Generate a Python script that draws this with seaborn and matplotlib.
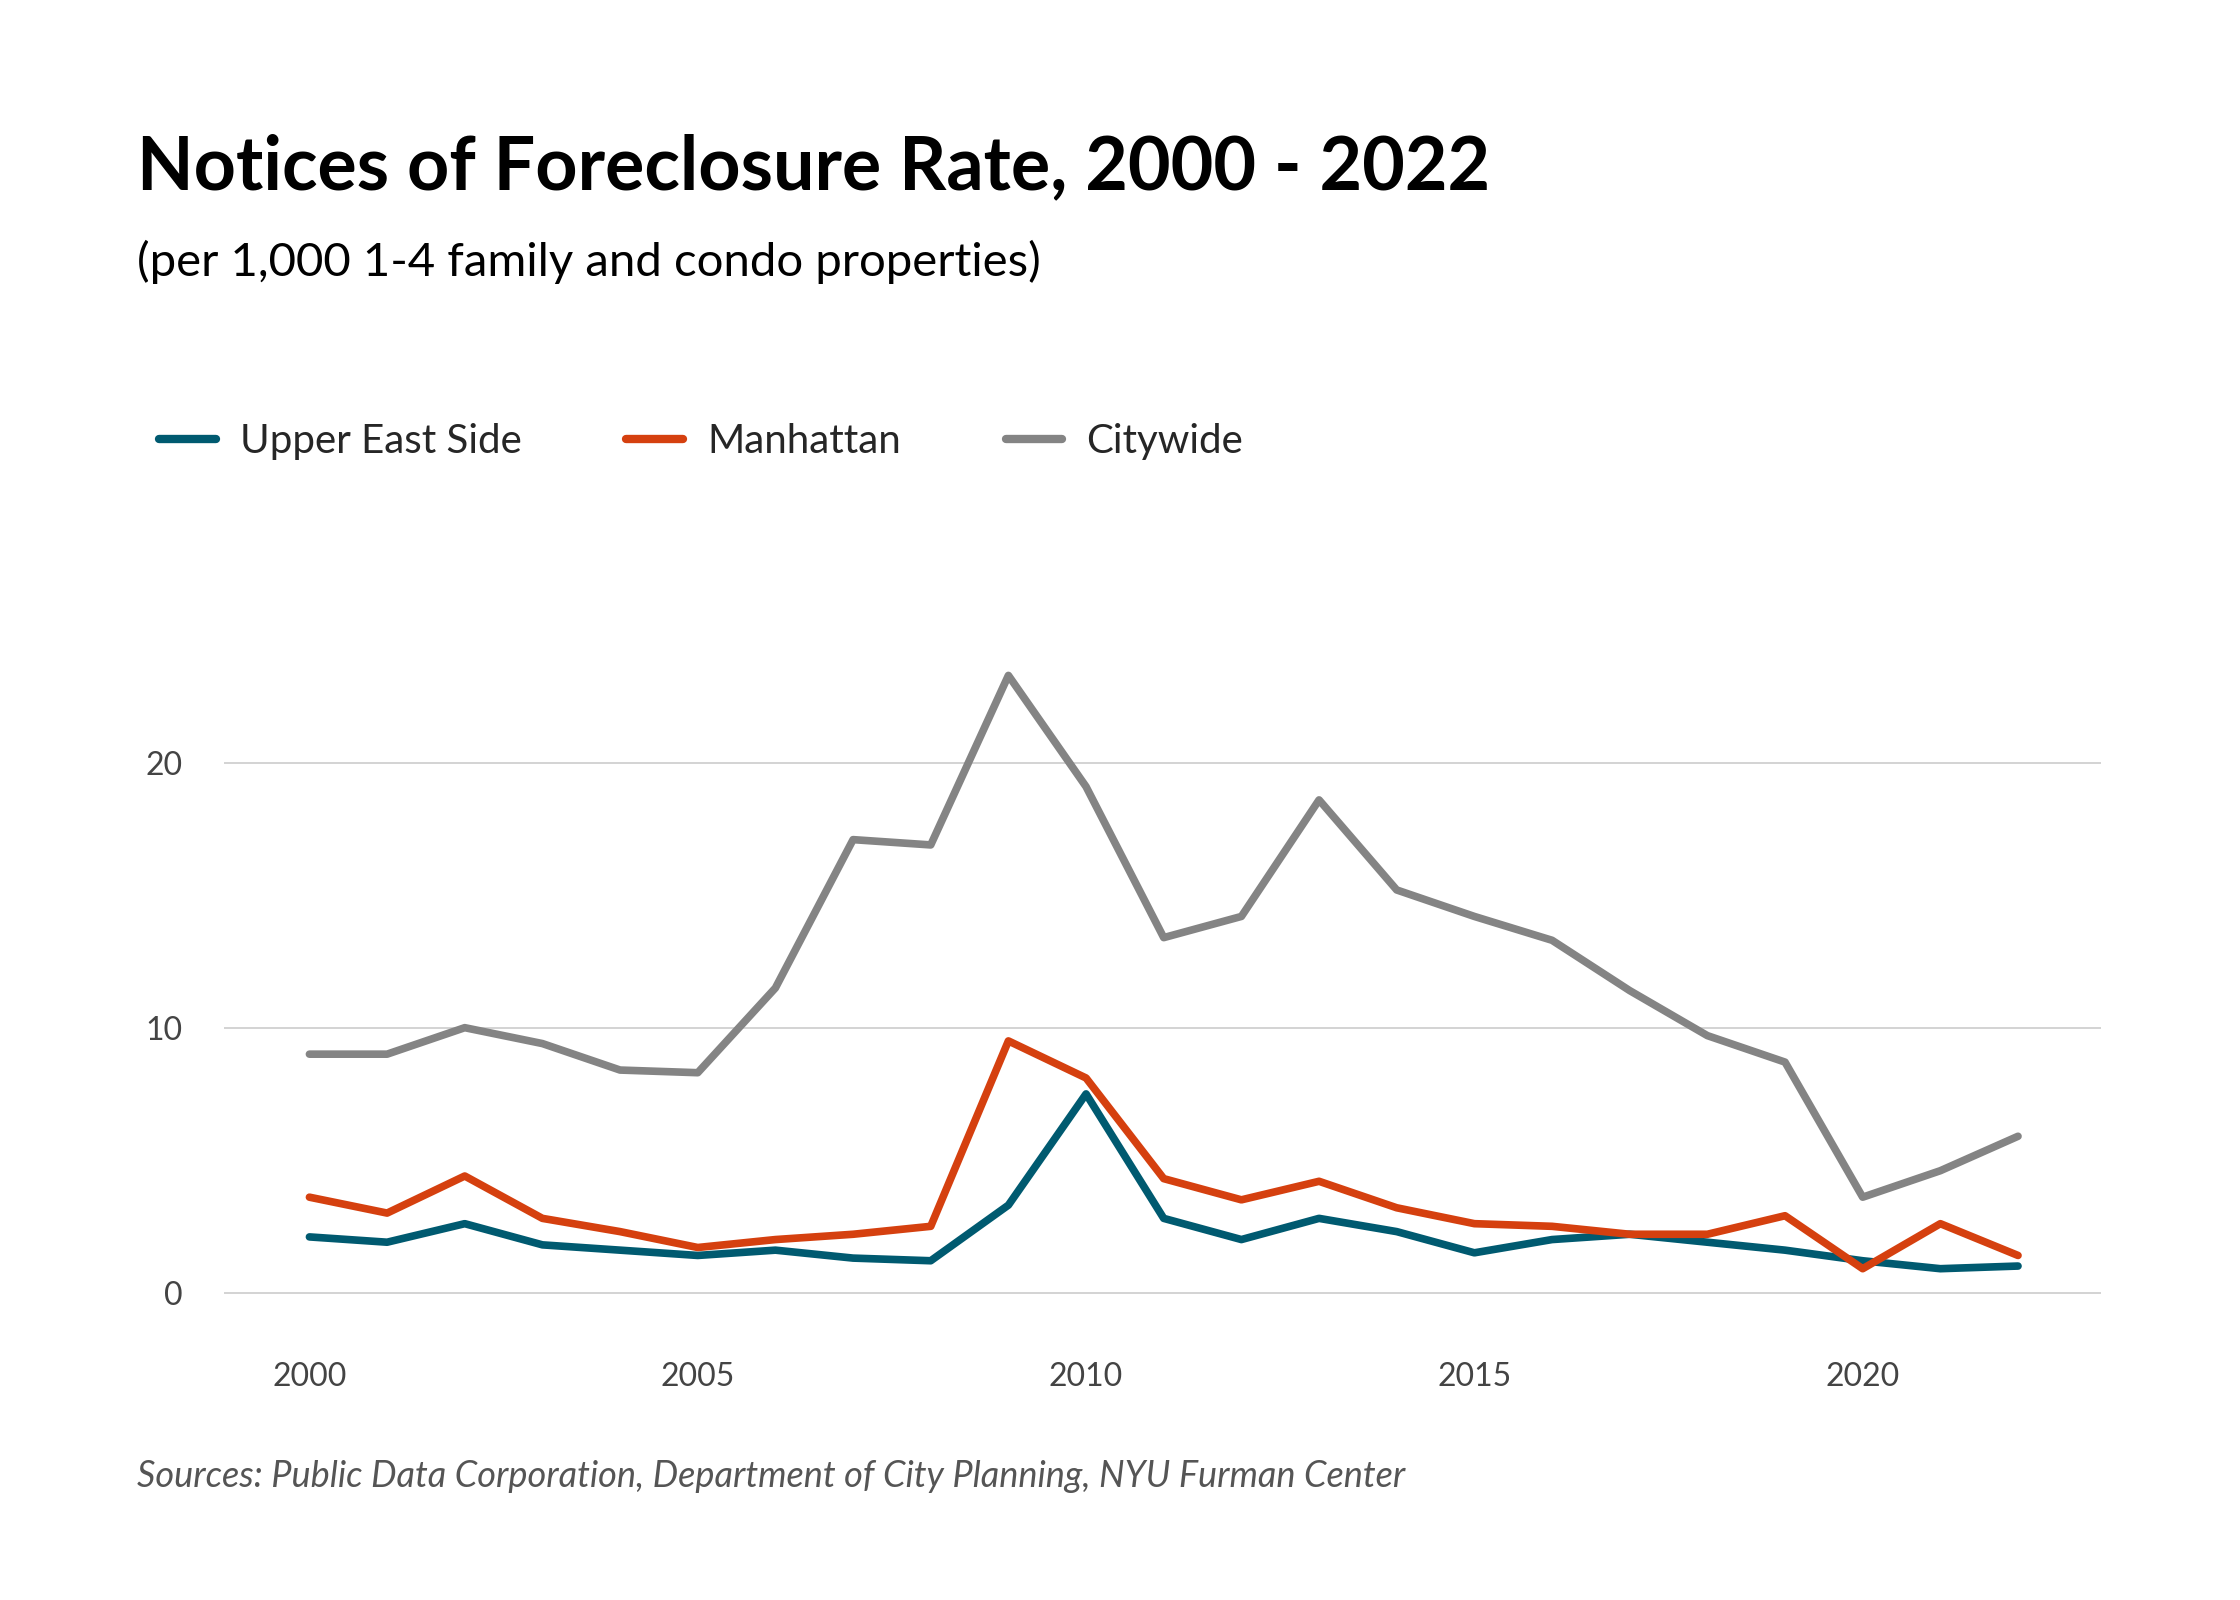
import matplotlib
matplotlib.use("Agg")
import matplotlib.pyplot as plt
import seaborn as sns
import pandas as pd

# Data
years = list(range(2000, 2023))
upper_east_side = [2.1, 1.9, 2.6, 1.8, 1.6, 1.4, 1.6, 1.3, 1.2, 3.3, 7.5, 2.8, 2.0,
                   2.8, 2.3, 1.5, 2.0, 2.2, 1.9, 1.6, 1.2, 0.9, 1.0]
manhattan = [3.6, 3.0, 4.4, 2.8, 2.3, 1.7, 2.0, 2.2, 2.5, 9.5, 8.1, 4.3, 3.5,
             4.2, 3.2, 2.6, 2.5, 2.2, 2.2, 2.9, 0.9, 2.6, 1.4]
citywide = [9.0, 9.0, 10.0, 9.4, 8.4, 8.3, 11.5, 17.1, 16.9, 23.3, 19.1, 13.4, 14.2,
            18.6, 15.2, 14.2, 13.3, 11.4, 9.7, 8.7, 3.6, 4.6, 5.9]
series_names = ["Upper East Side", "Manhattan", "Citywide"]
colors = ["#005a70", "#d5400f", "#848484"]

df = pd.DataFrame({"year": years * 3,
                   "rate": upper_east_side + manhattan + citywide,
                   "area": sum([[n] * len(years) for n in series_names], [])})

sns.set_style("white")
plt.rcParams['font.family'] = ['Lato', 'DejaVu Sans']

fig = plt.figure(figsize=(22.4, 16), dpi=100)
ax = fig.add_axes([0.1, 0.168, 0.838, 0.438])

sns.lineplot(data=df, x="year", y="rate", hue="area", hue_order=series_names,
             palette=colors, linewidth=5.5, ax=ax, legend=False)

ax.set_xlim(1998.9, 2023.07)
ax.set_ylim(-1.46, 25.0)
ax.set_xticks([2000, 2005, 2010, 2015, 2020])
ax.set_yticks([0, 10, 20])
ax.set_xlabel("")
ax.set_ylabel("")
ax.grid(axis="y", color="#cccccc", linewidth=1.2)
ax.set_axisbelow(True)
for s in ax.spines.values():
    s.set_visible(False)
ax.tick_params(axis="both", length=0, labelsize=23, labelcolor="#444444")
ax.tick_params(axis="x", pad=22)
ax.tick_params(axis="y", pad=30)

# Titles
fig.text(0.061, 0.895, "Notices of Foreclosure Rate, 2000 - 2022",
         fontsize=53, fontweight="bold", va="center", color="black")
fig.text(0.061, 0.836, "(per 1,000 1-4 family and condo properties)",
         fontsize=34, va="center", color="black")

# Legend
handles = [plt.Line2D([], [], color=c, linewidth=6) for c in colors]
fig.legend(handles, series_names, loc="center left", bbox_to_anchor=(0.055, 0.724),
           ncol=3, frameon=False, fontsize=29, handlelength=1.4,
           columnspacing=2.6, handletextpad=0.6)

fig.text(0.061, 0.077,
         "Sources: Public Data Corporation, Department of City Planning, NYU Furman Center",
         fontsize=26, style="italic", color="#555555", va="center")

fig.savefig("out.png", dpi=100)
